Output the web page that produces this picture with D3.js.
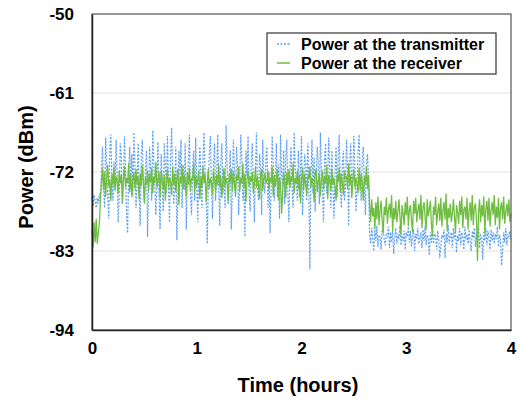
<!DOCTYPE html>
<html>
<head>
<meta charset="utf-8">
<script src="https://cdn.jsdelivr.net/npm/d3@7"></script>
<style>
  html, body { margin: 0; padding: 0; background: #fff; }
  svg { display: block; font-family: "Liberation Sans", Arial, Helvetica, sans-serif; font-weight: bold; }
</style>
</head>
<body>
<svg id="chart" width="519" height="400"></svg>
<script>
// ---- data ----
const timeStep = 0.01; // hours between samples
const xTicks = [0, 1, 2, 3, 4];
const yTicks = [-94, -83, -72, -61, -50];
const seriesNames = ["Power at the transmitter", "Power at the receiver"];

const transmitter = [
  -75.5, -76.8, -75.2, -76, -77, -75.6, -76.4, -75, -76.2,
  -72, -68.5, -74, -77, -67.2, -71, -75.5, -78.5, -69, -66.8, -73, -76, -70.5, -74.5, -67.5, -72.5,
  -79, -75, -68, -70, -76.5, -73, -67, -71.5, -78, -80.5, -72, -68.5, -74, -69.5, -75.5, -66.5,
  -71, -77, -73.5, -68, -75, -79.5, -70, -67.5, -73, -76, -72, -69, -81, -74.5, -68.5, -71.5,
  -76, -66.2, -70.5, -74, -78, -72.5, -67.8, -75.5, -80, -69.5, -73, -77.5, -68, -71, -75, -67,
  -73.5, -79, -70, -65.8, -72, -76.5, -74, -68.5, -81.5, -75, -69, -72.5, -67.5, -77, -71, -74.5,
  -68, -80, -73, -70.5, -66.8, -75.5, -78, -72, -69, -76, -67.2, -74, -79, -71.5, -68.5, -73,
  -77, -70, -66.5, -72.5, -75, -82, -74, -69.5, -67, -73.5, -78.5, -71, -68, -76, -72.5, -66.8,
  -74.5, -79.5, -70.5, -68, -75, -72, -77, -65.5, -71, -76.5, -73, -69, -80, -74, -67.5, -72,
  -75.5, -68.5, -71, -78, -73.5, -66.8, -70, -76, -74.5, -81, -69, -72.5, -67, -75, -77.5, -70.5,
  -68, -73, -79, -72, -66.5, -74.5, -76, -69.5, -71.5, -78, -67.5, -73.5, -75, -70, -68.5, -77,
  -72, -80.5, -74, -67, -70.5, -76, -73, -68, -75.5, -71, -78.5, -66.8, -72.5, -74, -69, -76.5,
  -70, -67.5, -75, -79, -72, -68.5, -74.5, -77, -66.5, -71.5, -73, -76, -69, -75.5, -72, -67,
  -78, -73.5, -69.5, -71, -76, -68, -74, -85.5, -72.5, -67.5, -75, -70, -77.5, -73, -68.5, -71,
  -76.5, -66.5, -72, -74.5, -79, -70.5, -68, -75, -73, -67.2, -71.5, -77, -69, -74, -78.5, -72,
  -68.5, -75.5, -70, -66.8, -73.5, -77, -71, -69, -76, -74, -67.5, -72, -79.5, -70.5, -68, -75,
  -73, -67, -71.5, -77.5, -74.5, -69, -66.8, -72.5, -76, -70, -68.5, -74, -78, -71, -69.5, -73,
  -80.5, -82, -79.8, -81.2, -83, -80, -81.6, -79.5, -82.4, -80.8, -81, -82.8, -80.2, -79.8, -81.5, -82.2, -80.6,
  -81, -79.6, -82.6, -80.4, -81.8, -80, -83.4, -81.2, -79.8, -82, -80.6, -81.4, -79.4, -82.2, -80.8, -81.6, -80.2,
  -82.8, -80.4, -81, -79.6, -81.8, -80.2, -82.4, -81, -80, -83, -80.6, -81.4, -79.8, -82, -81.2, -80.4, -82.6,
  -80, -81.6, -79.5, -82.2, -80.8, -81.2, -83.6, -80.4, -81.8, -79.8, -82, -80.6, -81, -82.8, -80.2, -81.4, -84,
  -82.4, -80.8, -81.2, -80, -84, -80.6, -81.8, -79.4, -82, -81, -80.4, -82.6, -79.8, -81.4, -80.2, -83.2, -80.8,
  -81.6, -79.8, -82.2, -80.4, -81, -82.8, -79.6, -81.4, -80.6, -82, -80, -81.8, -83, -80.2, -81.2, -79.8, -82.4,
  -80.6, -81.4, -79.5, -82.6, -80.8, -81, -84.2, -80.4, -81.6, -79.8, -82.2, -80.2, -81.2, -82.8, -80, -81.6, -80.4,
  -82, -80.6, -81.4, -79.6, -82.4, -80.8, -81.2, -85, -83, -80.4, -81.8, -79.8, -82.2, -80.6, -81, -80.2, -81.4
];

const receiver = [
  -80, -82.5, -79, -81.8, -78.5, -82, -80.5, -79.2, -76,
  -73.5, -71.5, -74.5, -72, -75.5, -72.8, -71, -74, -73, -76, -72.2, -73.8, -71.4, -74.6, -72.6, -73.2,
  -75, -71.8, -73.6, -72.4, -76.2, -73, -71.2, -74.2, -72.8, -73.6, -70.8, -74.8, -72.4, -75.4, -73.2, -72,
  -74.4, -71.6, -73.8, -72.6, -75.8, -72.2, -74, -71, -73.4, -76.4, -72.8, -73.8, -71.8, -74.6, -72.2, -73.4,
  -71.4, -75, -72.6, -73.6, -70.6, -74.2, -73, -72, -75.6, -71.8, -73.2, -74.4, -72.4, -76, -73.6, -71.6,
  -74.2, -72.8, -73.4, -75.2, -71.2, -73.8, -72.2, -74.8, -73, -71.6, -76.6, -72.6, -73.6, -71, -74.4, -72.4,
  -73.2, -75.4, -72, -73.8, -71.4, -74.6, -72.8, -73.2, -70.8, -75, -72.4, -74, -73, -71.8, -75.8, -72.6,
  -74, -71.2, -73.6, -72.2, -76.2, -73.4, -71.6, -74.4, -72.8, -73.6, -75.2, -71.8, -73, -74.8, -72.4, -73.8,
  -71, -74.2, -72.6, -75.6, -73.2, -71.4, -74, -72.8, -73.6, -76, -72.2, -73.4, -71.6, -74.6, -72, -73.8,
  -75.2, -72.4, -73.2, -71.2, -74.8, -72.8, -73.6, -70.8, -74.4, -72.2, -76.2, -73, -71.8, -74, -72.6, -73.4,
  -72, -75, -73.6, -71.4, -74.2, -72.6, -73.8, -75.8, -72.4, -71.6, -74.6, -73, -72.2, -73.6, -73.2, -71.8,
  -74.4, -72.8, -73.4, -71.2, -75.4, -72.4, -74, -73, -71.6, -76, -72.8, -73.6, -77.8, -74.8, -72.2, -73.2,
  -75.6, -72, -73.8, -71.6, -74.2, -72.6, -73.4, -70.8, -75, -72.8, -73.6, -71.8, -74.4, -72.4, -76.4, -73,
  -71.4, -74.6, -72.2, -73.8, -75.2, -72.6, -73, -71.2, -74.2, -72.8, -73.6, -76.2, -72.4, -71.6, -74.8, -73.2,
  -72.2, -75.4, -73, -71.8, -74.4, -72.6, -73.6, -71, -75.8, -72.4, -73.2, -74.6, -71.6, -73.8, -72.8, -74,
  -76, -72.4, -73.4, -71.4, -74.8, -72.2, -73.6, -75.2, -71.8, -73, -72.6, -74.4, -70.8, -73.8, -72.4, -75.6,
  -73.2, -71.6, -74.2, -72.8, -73.6, -75, -71.4, -74.6, -72.2, -73.4, -76, -72.6, -73.8, -71.2, -74.4, -72.4,
  -76.5, -79, -75.8, -78.2, -77, -80, -76.2, -78.6, -75.4, -79.4, -77.4, -76, -78.8, -80.6, -76.8, -78, -75.6,
  -79.2, -77.2, -76.4, -78.4, -75.2, -80.2, -77, -78.6, -76, -79, -77.6, -75.8, -78.2, -80.8, -76.6, -77.8, -79.4,
  -76.2, -78, -75.4, -79.6, -77.2, -76.6, -78.8, -80.4, -76, -77.8, -75.6, -79, -77.4, -76.4, -78.6, -75.2, -79.8,
  -77, -76.2, -78.4, -80, -75.8, -78.2, -77.2, -76, -79.2, -81, -76.8, -78, -75.4, -79.4, -77.6, -76.4, -78.8,
  -75.6, -79.6, -77.4, -76.2, -78.6, -75, -80.2, -77, -78.4, -76.4, -79, -77.8, -75.8, -78.2, -80.4, -76.6, -77.6,
  -79.2, -76, -78, -75.4, -79.8, -77.2, -76.8, -78.6, -75.6, -80, -77.4, -76.2, -78.8, -75.2, -79.4, -77, -76.4,
  -78.4, -84.4, -77.6, -75.8, -79, -76.6, -78.2, -75.4, -80.6, -77.2, -76, -78.8, -75.6, -79.6, -77.4, -76.2, -78,
  -75.2, -79.4, -76.8, -78.4, -75.6, -80, -77, -76.2, -78.6, -75.4, -79.2, -77.6, -76.4, -78.2, -75.8, -79, -77.8
];

// ---- layout ----
const svg = d3.select("#chart");
const L = 92, R = 511, T = 14, B = 330;
const x = d3.scaleLinear().domain([0, 4]).range([L, R]);
const y = d3.scaleLinear().domain([-94, -50]).range([B, T]);

const blue = "#5d9ff0", green = "#6fbe42";
const fmt = d => String(d);

// gridlines
svg.append("g").selectAll("line").data(yTicks.filter(v => v > -94 && v < -50)).join("line")
  .attr("x1", L).attr("x2", R).attr("y1", d => y(d)).attr("y2", d => y(d))
  .attr("stroke", "#e2e2e2").attr("stroke-width", 1);

// lines
const toPts = arr => arr.map((v, i) => [i * timeStep, v]);
const line = d3.line().x(d => x(d[0])).y(d => y(d[1]));

svg.append("path").datum(toPts(transmitter)).attr("d", line)
  .attr("fill", "none").attr("stroke", blue).attr("stroke-width", 1.2)
  .attr("stroke-dasharray", "2,1.5");
svg.append("path").datum(toPts(receiver)).attr("d", line)
  .attr("fill", "none").attr("stroke", green).attr("stroke-width", 1.3);

// frame
svg.append("rect").attr("x", L).attr("y", T).attr("width", R - L).attr("height", B - T)
  .attr("fill", "none").attr("stroke", "#555").attr("stroke-width", 1.2);

// axes
const xAxis = svg.append("g").attr("transform", `translate(0,${B})`)
  .call(d3.axisBottom(x).tickValues(xTicks).tickSize(0).tickPadding(12).tickFormat(fmt));
const yAxis = svg.append("g").attr("transform", `translate(${L},0)`)
  .call(d3.axisLeft(y).tickValues(yTicks).tickSize(0).tickPadding(18).tickFormat(fmt));
[xAxis, yAxis].forEach(g => {
  g.select(".domain").attr("stroke", "#222").attr("stroke-width", 1.5);
  g.selectAll("text").attr("font-size", 17).attr("font-weight", "bold")
    .attr("font-family", "'Liberation Sans', Arial, sans-serif").attr("fill", "#000");
});

// axis titles
svg.append("text").attr("x", 298).attr("y", 392).attr("text-anchor", "middle")
  .attr("font-size", 20).text("Time (hours)");
svg.append("text").attr("transform", "translate(33,167) rotate(-90)").attr("text-anchor", "middle")
  .attr("font-size", 20).text("Power (dBm)");

// legend
const lg = svg.append("g");
lg.append("rect").attr("x", 267).attr("y", 33).attr("width", 229).attr("height", 41)
  .attr("fill", "#fff").attr("stroke", "#333").attr("stroke-width", 1.2);
const legendRows = [
  { name: seriesNames[0], color: blue, dash: "2,1.5", yy: 44 },
  { name: seriesNames[1], color: green, dash: null, yy: 63 }
];
legendRows.forEach(r => {
  lg.append("line").attr("x1", 277).attr("x2", 290).attr("y1", r.yy).attr("y2", r.yy)
    .attr("stroke", r.color).attr("stroke-width", 1.5).attr("stroke-dasharray", r.dash);
  lg.append("text").attr("x", 301).attr("y", r.yy + 6).attr("font-size", 16).text(r.name);
});
</script>
</body>
</html>
